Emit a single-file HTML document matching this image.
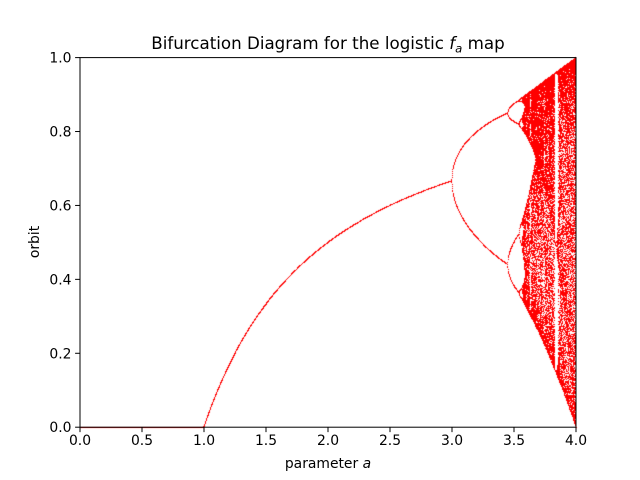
<!DOCTYPE html>
<html><head><meta charset="utf-8"><style>
body{margin:0;background:#fff;}
#wrap{position:relative;width:640px;height:480px;font-family:"DejaVu Sans","Liberation Sans",sans-serif;}
canvas,svg{position:absolute;left:0;top:0;}
</style></head><body>
<div id="wrap">
<canvas id="cv" width="640" height="480"></canvas>
<svg id="sv" width="640" height="480"></svg>
</div>
<script>
// data: parameter sweep and iteration settings
const aMin = 0.0, aMax = 4.0, aCount = 2000;
const transient = 600, keep = 120;
const xTicks = [0.0,0.5,1.0,1.5,2.0,2.5,3.0,3.5,4.0];
const yTicks = [0.0,0.2,0.4,0.6,0.8,1.0];
const xTickLabels = ["0.0","0.5","1.0","1.5","2.0","2.5","3.0","3.5","4.0"];
const yTickLabels = ["0.0","0.2","0.4","0.6","0.8","1.0"];

const L=80,R=576,T=57.6,B=427.2;
const sx=v=>L+(v-aMin)/(aMax-aMin)*(R-L);
const sy=v=>B-v*(B-T);

const ctx=document.getElementById('cv').getContext('2d');
ctx.fillStyle='#ff0000';
for(let i=0;i<=aCount;i++){
  const a=aMin+(aMax-aMin)*i/aCount;
  let x=0.5;
  for(let k=0;k<transient;k++) x=a*x*(1-x);
  for(let k=0;k<keep;k++){
    x=a*x*(1-x);
    ctx.fillRect(Math.floor(sx(a)),Math.floor(sy(x)),1,1);
  }
}
const NS='http://www.w3.org/2000/svg';
const sv=document.getElementById('sv');
function mk(tag,attrs,text){const e=document.createElementNS(NS,tag);for(const k in attrs)e.setAttribute(k,attrs[k]);if(text!=null)e.textContent=text;sv.appendChild(e);return e;}
const frame=mk('rect',{x:L,y:T,width:R-L,height:B-T,fill:'none',stroke:'#000','stroke-width':1});


xTicks.forEach((v,i)=>{
  const t=mk('line',{x1:sx(v),x2:sx(v),y1:B,y2:B+4.9,stroke:'#000','stroke-width':1});
  
  
  const l=mk('text',{x:sx(v),y:B+18,'text-anchor':'middle','font-size':13.9},xTickLabels[i]);
  
  
});
yTicks.forEach((v,i)=>{
  const t=mk('line',{x1:L-4.9,x2:L,y1:sy(v),y2:sy(v),stroke:'#000','stroke-width':1});
  
  
  const l=mk('text',{x:L-8.5,y:sy(v)+5,'text-anchor':'end','font-size':13.9},yTickLabels[i]);
  
  
});
</script>
<svg width="640" height="480" style="position:absolute;left:0;top:0">
<text x="328" y="49" text-anchor="middle" font-size="16.7" font-family="DejaVu Sans, Liberation Sans, sans-serif">Bifurcation Diagram for the logistic <tspan font-style="italic">f</tspan><tspan font-style="italic" font-size="11.7" dy="3.5">a</tspan><tspan dy="-3.5"> map</tspan></text>
<text x="328" y="468" text-anchor="middle" font-size="13.9" font-family="DejaVu Sans, Liberation Sans, sans-serif">parameter <tspan font-style="italic">a</tspan></text>
<text x="39" y="242" text-anchor="middle" font-size="13.9" font-family="DejaVu Sans, Liberation Sans, sans-serif" transform="rotate(-90 39 242)">orbit</text>
</svg>
</body></html>
